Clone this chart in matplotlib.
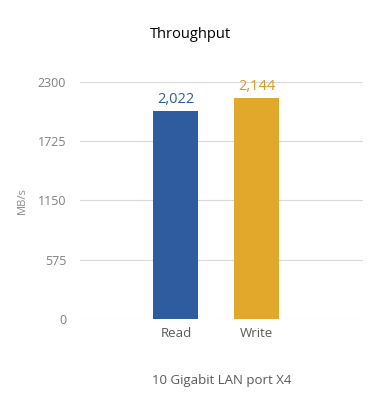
import matplotlib.pyplot as plt

categories = ["Read", "Write"]
values = [2022, 2144]
bar_colors = ["#2E5C9F", "#E2A82C"]
label_colors = ["#2E5C9F", "#D9981F"]
yticks = [0, 575, 1150, 1725, 2300]


def main():
    plt.rcParams["font.family"] = ["Open Sans", "DejaVu Sans"]
    fig = plt.figure(figsize=(3.8, 4.2), dpi=100)
    ax = fig.add_axes([0.2105, 0.2405, 0.7445, 0.5643])

    x = list(range(len(categories)))
    ax.bar(x, values, width=0.556, color=bar_colors, zorder=3)
    for xi, v, c in zip(x, values, label_colors):
        ax.text(xi, v + 35, f"{v:,}", ha="center", va="bottom",
                color=c, fontsize=10.5)

    ax.set_xlim(-1.185, 2.309)
    ax.set_ylim(0, 2300)
    ax.set_yticks(yticks)
    ax.set_yticklabels([str(t) for t in yticks])
    ax.set_xticks(x)
    ax.set_xticklabels(categories)
    ax.yaxis.grid(True, color="#D9D9D9", linewidth=0.8, zorder=0)
    for s in ax.spines.values():
        s.set_visible(False)
    ax.tick_params(length=0)
    ax.tick_params(axis="y", colors="#808080", labelsize=9, pad=10)
    ax.tick_params(axis="x", colors="#595959", labelsize=9.5, pad=6)

    ax.set_ylabel("MB/s", color="#8C8C8C", fontsize=8)
    ax.yaxis.set_label_coords(-0.184, 0.5)
    ax.set_xlabel("10 Gigabit LAN port X4", color="#595959",
                  fontsize=9.5, labelpad=24)
    fig.text(0.5, 0.917, "Throughput", ha="center", va="center",
             fontsize=10.5, color="black")

    fig.savefig("out.png", dpi=100)


if __name__ == "__main__":
    main()
